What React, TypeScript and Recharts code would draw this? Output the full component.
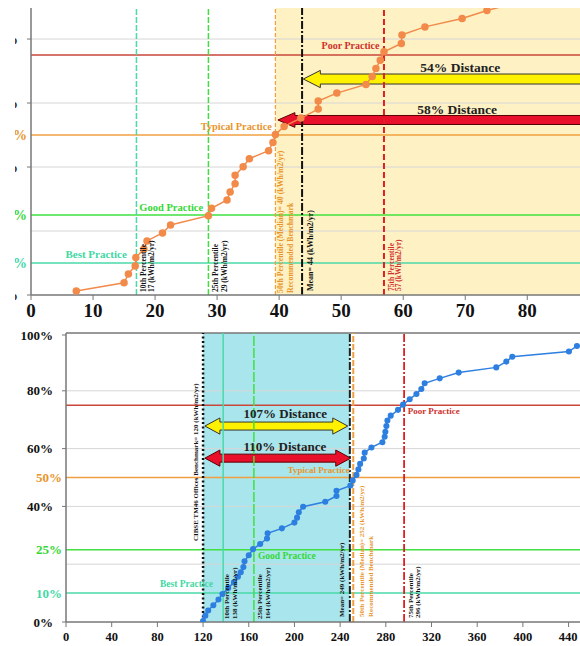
import React from "react";
import { ComposedChart, Line, XAxis, YAxis, ReferenceLine, ReferenceArea, ReferenceDot } from "recharts";

const FONT = '"Liberation Serif", "Times New Roman", serif';

// upper chart: energy use intensity (kWh/m2/yr) vs cumulative share of buildings
const topEnergy = [7.3, 15.0, 15.7, 16.8, 16.9, 18.2, 18.7, 21.2, 22.5, 28.6, 29.1, 31.6, 32.1, 32.9, 32.9, 34.2, 35.2, 38.3, 39.0, 39.4, 40.8, 43.5, 46.3, 46.3, 49.3, 54.0, 55.0, 55.6, 56.3, 56.9, 59.7, 59.8, 63.5, 69.5, 73.5, 78.5];
const topShare = [0.0125, 0.038, 0.066, 0.091, 0.117, 0.144, 0.169, 0.194, 0.219, 0.248, 0.271, 0.297, 0.322, 0.348, 0.374, 0.401, 0.426, 0.451, 0.477, 0.502, 0.527, 0.553, 0.581, 0.606, 0.631, 0.658, 0.683, 0.708, 0.734, 0.76, 0.786, 0.813, 0.838, 0.864, 0.889, 0.915];
const topTicksX = [0, 10, 20, 30, 40, 50, 60, 70, 80];

// lower chart
const bottomEnergy = [120, 122, 124.5, 129, 133.5, 137, 142, 147, 150.5, 153, 155.3, 156.3, 160, 163.8, 170, 176, 176.5, 189, 200, 202.3, 203.8, 207.6, 227, 236.8, 236.8, 249, 251, 254.3, 256, 257.5, 260.7, 261.5, 267.4, 277, 279, 279.6, 280.5, 281.4, 284.3, 290.7, 295.1, 300.9, 306.8, 311.1, 314, 327.2, 343.8, 376.7, 385.5, 390.7, 440.3, 447.3, 475];
const bottomShare = [0.003, 0.022, 0.04, 0.058, 0.078, 0.097, 0.118, 0.137, 0.157, 0.172, 0.19, 0.21, 0.231, 0.252, 0.27, 0.289, 0.307, 0.324, 0.344, 0.361, 0.38, 0.399, 0.416, 0.436, 0.454, 0.472, 0.49, 0.509, 0.528, 0.547, 0.566, 0.586, 0.604, 0.622, 0.641, 0.658, 0.678, 0.697, 0.714, 0.734, 0.752, 0.771, 0.789, 0.806, 0.826, 0.843, 0.863, 0.881, 0.901, 0.918, 0.936, 0.955, 0.973];
const bottomTicksX = [0, 40, 80, 120, 160, 200, 240, 280, 320, 360, 400, 440];

const gridLevels = [0.2, 0.4, 0.6, 0.8];
const practiceLevels = [0.1, 0.25, 0.5, 0.75];
const practiceNames = ["Best Practice", "Good Practice", "Typical Practice", "Poor Practice"];
const topShareTicks = [0, 0.1, 0.2, 0.25, 0.4, 0.5, 0.6, 0.75, 0.8];
const bottomShareTicks = [0, 0.1, 0.2, 0.25, 0.4, 0.5, 0.6, 0.75, 0.8, 1];

const TEAL = "#4ad9a8";
const GREEN = "#3fe03f";
const ORANGE = "#f0a040";
const RED = "#c8463a";
const practiceColors = [TEAL, GREEN, ORANGE, RED];
const labelColors = ["#3fd8a4", "#35d835", "#e8952b", "#d0302c"];
const GRID = "#d6d6d6";
const AXIS = "#777";

const ShareTick = (props: any) => {
  const { x, y, payload, fontSize } = props;
  const v = payload.value;
  const i = practiceLevels.indexOf(v);
  const colored = i >= 0;
  return (
    <g>
      {!colored && <line x1={x - 4} x2={x} y1={y} y2={y} stroke={AXIS} />}
      <text
        x={colored ? x - 4 : x - 13}
        y={y}
        textAnchor="end"
        dominantBaseline="central"
        style={{ fontFamily: FONT }}
        fontWeight="bold"
        fontSize={fontSize}
        fill={colored ? labelColors[i] : "#111"}
      >
        {Math.round(v * 100)}%
      </text>
    </g>
  );
};

const EnergyTick = (props: any) => {
  const { x, y, payload, fontSize } = props;
  return (
    <text x={x} y={y} textAnchor="middle" dy="0.71em" style={{ fontFamily: FONT }} fontWeight="bold" fontSize={fontSize} fill="#111">
      {payload.value}
    </text>
  );
};

const tag = (text: string, color: string, size: number, anchor = "middle") => (p: any) => (
  <text x={p.cx} y={p.cy} textAnchor={anchor} dominantBaseline="central" style={{ fontFamily: FONT }} fontWeight="bold" fontSize={size} fill={color}>
    {text}
  </text>
);

const rot = (lines: [string, number][], color: string, size: number, lift: number) => (p: any) => (
  <g>
    {lines.map(([t, dx], k) => {
      const tx = p.cx + dx;
      const ty = p.cy - lift;
      return (
        <text key={k} x={tx} y={ty} transform={`rotate(-90 ${tx} ${ty})`} textAnchor="start" dominantBaseline="central" style={{ fontFamily: FONT }} fontWeight="bold" fontSize={size} fill={color}>
          {t}
        </text>
      );
    })}
  </g>
);

const arrow = (fill: string, stroke: string, shaft: number, head: number, both: boolean) => (p: any) => {
  const { x, y, width, height } = p;
  const cy = y + height / 2;
  const t = shaft / 2;
  const x0 = x;
  const x1 = x + width;
  const b = y + height;
  const d = both
    ? `M${x0},${cy} L${x0 + head},${y} L${x0 + head},${cy - t} L${x1 - head},${cy - t} L${x1 - head},${y} L${x1},${cy} L${x1 - head},${b} L${x1 - head},${cy + t} L${x0 + head},${cy + t} L${x0 + head},${b} Z`
    : `M${x0},${cy} L${x0 + head},${y} L${x0 + head},${cy - t} L${x1},${cy - t} L${x1},${cy + t} L${x0 + head},${cy + t} L${x0 + head},${b} Z`;
  return <path d={d} fill={fill} stroke={stroke} strokeWidth={1} />;
};

export default function App() {
  const topData = topEnergy.map((x, i) => ({ x, y: topShare[i] }));
  const bottomData = bottomEnergy.map((x, i) => ({ x, y: bottomShare[i] }));

  return (
    <div style={{ position: "absolute", left: 0, top: 0, width: 580, height: 646, overflow: "hidden", background: "#fff", fontFamily: FONT }}>
      <div style={{ position: "absolute", left: 15, top: 0, width: 565, height: 325, overflow: "hidden" }}>
        <div style={{ position: "absolute", left: -15, top: 0 }}>
          <ComposedChart width={580} height={325} data={topData} margin={{ top: 8, right: 0, bottom: 0, left: 0 }}>
            <XAxis
              type="number"
              dataKey="x"
              domain={[0, 88.5]}
              ticks={topTicksX}
              allowDataOverflow
              height={30}
              axisLine={{ stroke: AXIS, strokeWidth: 1.5 }}
              tickLine={{ stroke: AXIS }}
              tickSize={5}
              tickMargin={4}
              tick={<EnergyTick fontSize={19} />}
            />
            <YAxis
              type="number"
              domain={[0, 0.897]}
              ticks={topShareTicks}
              allowDataOverflow
              width={31}
              axisLine={{ stroke: AXIS, strokeWidth: 1.5 }}
              tickLine={false}
              tickSize={0}
              tickMargin={0}
              tick={<ShareTick fontSize={14} />}
            />
            <ReferenceArea x1={39.4} x2={88.5} y1={0} y2={0.897} fill="#fef1c4" fillOpacity={1} stroke="none" />
            {gridLevels.map((v) => (
              <ReferenceLine key={v} y={v} stroke={GRID} strokeWidth={1} />
            ))}
            {practiceLevels.map((v, i) => (
              <ReferenceLine key={v} y={v} stroke={practiceColors[i]} strokeWidth={1.5} />
            ))}
            <ReferenceLine x={17} stroke={TEAL} strokeWidth={1.5} strokeDasharray="6 2" />
            <ReferenceLine x={28.6} stroke={GREEN} strokeWidth={1.5} strokeDasharray="6 2" />
            <ReferenceLine x={39.4} stroke={ORANGE} strokeWidth={1.2} strokeDasharray="4 2" />
            <ReferenceLine x={43.7} stroke="#111" strokeWidth={2} strokeDasharray="8 2 2 2" />
            <ReferenceLine x={56.9} stroke="#e02020" strokeWidth={2} strokeDasharray="6 3" />
            <Line
              dataKey="y"
              type="linear"
              stroke="#f28a4a"
              strokeWidth={1.5}
              dot={{ r: 3, fill: "#f28a4a", stroke: "#f28a4a" }}
              isAnimationActive={false}
            />
            <ReferenceArea x1={43.9} x2={95} y1={0.648} y2={0.702} ifOverflow="visible" shape={arrow("#fff200", "#333", 10, 17, false)} />
            <ReferenceArea x1={39.8} x2={95} y1={0.524} y2={0.57} ifOverflow="visible" shape={arrow("#e8102a", "#5a0000", 9, 17, false)} />
            <ReferenceDot x={69.2} y={0.7125} r={0} shape={tag("54% Distance", "#222", 13.5)} />
            <ReferenceDot x={68.7} y={0.581} r={0} shape={tag("58% Distance", "#222", 13.5)} />
            <ReferenceDot x={51.5} y={0.781} r={0} shape={tag(practiceNames[3], labelColors[3], 10)} />
            <ReferenceDot x={33.1} y={0.528} r={0} shape={tag(practiceNames[2], labelColors[2], 10.3)} />
            <ReferenceDot x={22.6} y={0.275} r={0} shape={tag(practiceNames[1], labelColors[1], 10.5)} />
            <ReferenceDot x={10.5} y={0.128} r={0} shape={tag(practiceNames[0], labelColors[0], 11)} />
            <ReferenceDot x={17} y={0} r={0} shape={rot([["10th Percentile", 7], ["17 (kWh/m2/yr)", 15]], "#111", 7.5, 3)} />
            <ReferenceDot x={28.6} y={0} r={0} shape={rot([["25th Percentile", 7], ["29 (kWh/m2/yr)", 16]], "#111", 7.5, 3)} />
            <ReferenceDot x={39.4} y={0} r={0} shape={rot([["50th Percentile (Median)= 40 (kWh/m2/yr)", 5], ["Recommended Benchmark", 15]], "#e8952b", 7.8, 2)} />
            <ReferenceDot x={43.7} y={0} r={0} shape={rot([["Mean= 44 (kWh/m2/yr)", 8]], "#111", 8, 4)} />
            <ReferenceDot x={56.9} y={0} r={0} shape={rot([["75th Percentile", 8], ["57 (kWh/m2/yr)", 15]], "#d0302c", 7.5, 4)} />
          </ComposedChart>
        </div>
      </div>

      <div style={{ position: "absolute", left: 0, top: 326, width: 580, height: 320, overflow: "hidden" }}>
        <ComposedChart width={580} height={320} data={bottomData} margin={{ top: 7, right: 0, bottom: 0, left: 0 }}>
          <XAxis
            type="number"
            dataKey="x"
            domain={[0, 450]}
            ticks={bottomTicksX}
            allowDataOverflow
            height={24}
            axisLine={{ stroke: AXIS, strokeWidth: 1.5 }}
            tickLine={{ stroke: AXIS }}
            tickSize={5}
            tickMargin={5}
            tick={<EnergyTick fontSize={12.5} />}
          />
          <YAxis
            type="number"
            domain={[0, 1]}
            ticks={bottomShareTicks}
            allowDataOverflow
            width={66}
            axisLine={{ stroke: AXIS, strokeWidth: 1.5 }}
            tickLine={false}
            tickSize={0}
            tickMargin={0}
            tick={<ShareTick fontSize={13} />}
          />
          <ReferenceArea x1={120} x2={248.5} y1={0} y2={1} fill="#a9e5ec" fillOpacity={1} stroke="none" />
          {gridLevels.map((v) => (
            <ReferenceLine key={v} y={v} stroke={GRID} strokeWidth={1} />
          ))}
          <ReferenceLine y={1} stroke={AXIS} strokeWidth={1.5} />
          {practiceLevels.map((v, i) => (
            <ReferenceLine key={v} y={v} stroke={practiceColors[i]} strokeWidth={1.5} />
          ))}
          <ReferenceLine x={120} stroke="#111" strokeWidth={2.5} strokeDasharray="2 2.5" />
          <ReferenceLine x={137.6} stroke={TEAL} strokeWidth={1.5} />
          <ReferenceLine x={164.5} stroke={GREEN} strokeWidth={1.5} strokeDasharray="10 2" />
          <ReferenceLine x={248.5} stroke="#222" strokeWidth={2} strokeDasharray="8 2 2 2" />
          <ReferenceLine x={251.5} stroke={ORANGE} strokeWidth={2} strokeDasharray="6 2" />
          <ReferenceLine x={296} stroke="#e02020" strokeWidth={1.8} strokeDasharray="8 2 2 2" />
          <Line
            dataKey="y"
            type="linear"
            stroke="#2d7fe0"
            strokeWidth={1.5}
            dot={{ r: 2.3, fill: "#2d7fe0", stroke: "#2d7fe0" }}
            isAnimationActive={false}
          />
          <ReferenceArea x1={121.6} x2={246.7} y1={0.65} y2={0.706} ifOverflow="visible" shape={arrow("#fff200", "#333", 8, 15, true)} />
          <ReferenceArea x1={121.6} x2={249.3} y1={0.539} y2={0.595} ifOverflow="visible" shape={arrow("#e8102a", "#5a0000", 8, 15, true)} />
          <ReferenceDot x={192} y={0.723} r={0} shape={tag("107% Distance", "#222", 13)} />
          <ReferenceDot x={191.6} y={0.606} r={0} shape={tag("110% Distance", "#222", 13)} />
          <ReferenceDot x={299.2} y={0.73} r={0} shape={tag(practiceNames[3], labelColors[3], 9, "start")} />
          <ReferenceDot x={248.4} y={0.526} r={0} shape={tag(practiceNames[2], labelColors[2], 9, "end")} />
          <ReferenceDot x={168} y={0.228} r={0} shape={tag(practiceNames[1], labelColors[1], 9.5, "start")} />
          <ReferenceDot x={82.2} y={0.131} r={0} shape={tag(practiceNames[0], labelColors[0], 9.5, "start")} />
          <ReferenceDot x={120} y={0.28} r={0} shape={rot([["CIBSE TM46 Offices Benchmark= 120 (kWh/m2/yr)", -7]], "#111", 7, 0)} />
          <ReferenceDot x={137.6} y={0} r={0} shape={rot([["10th Percentile", 4], ["138 (kWh/m2/yr)", 12]], "#111", 7, 3)} />
          <ReferenceDot x={164.5} y={0} r={0} shape={rot([["25th Percentile", 6], ["164 (kWh/m2/yr)", 14]], "#111", 7, 3)} />
          <ReferenceDot x={248.5} y={0} r={0} shape={rot([["Mean= 249 (kWh/m2/yr)", -8]], "#111", 7, 5)} />
          <ReferenceDot x={251.5} y={0} r={0} shape={rot([["50th Percentile (Median)= 252 (kWh/m2/yr)", 9], ["Recommended Benchmark", 18]], "#e8952b", 7, 5)} />
          <ReferenceDot x={296} y={0} r={0} shape={rot([["75th Percentile", 7], ["296 (kWh/m2/yr)", 14]], "#111", 7, 4)} />
        </ComposedChart>
      </div>
    </div>
  );
}
